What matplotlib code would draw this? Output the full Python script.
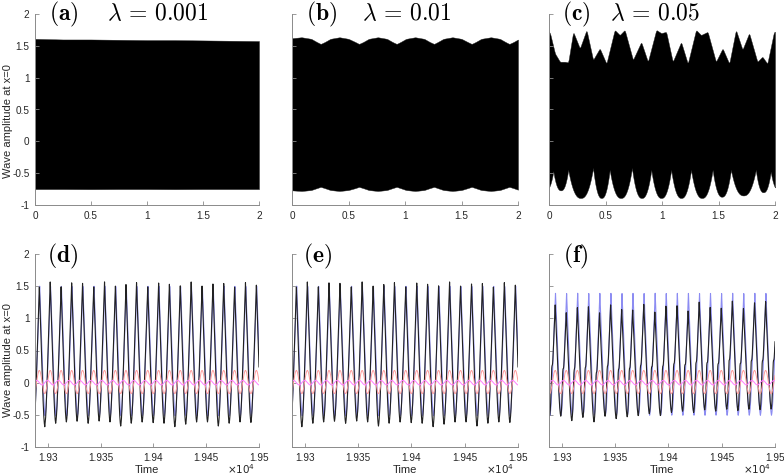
import numpy as np
import matplotlib
matplotlib.use('Agg')
import matplotlib.pyplot as plt

plt.rcParams['font.family'] = ['Liberation Sans', 'DejaVu Sans']
plt.rcParams['mathtext.fontset'] = 'cm'

# ---------------- data ----------------
panel_labels = ['(a)', '(b)', '(c)', '(d)', '(e)', '(f)']
lambda_labels = ['0.001', '0.01', '0.05']

# top row: envelopes of the dense oscillation (time in units of 1e4)
a_x = [0.0, 0.25, 0.5, 0.75, 1.0, 1.25, 1.5, 1.75, 2.0]
a_upper = [1.61, 1.60, 1.60, 1.595, 1.59, 1.59, 1.585, 1.58, 1.575]
a_lower = [-0.75, -0.75, -0.752, -0.75, -0.75, -0.752, -0.75, -0.75, -0.75]

b_x = [0.0, 0.085, 0.17, 0.22, 0.254, 0.29, 0.34, 0.42, 0.50, 0.56, 0.593, 0.63,
       0.68, 0.76, 0.84, 0.89, 0.926, 0.96, 1.01, 1.09, 1.17, 1.22, 1.257, 1.29,
       1.34, 1.42, 1.50, 1.555, 1.590, 1.625, 1.675, 1.76, 1.84, 1.89, 1.923, 1.96, 2.0]
b_upper = [1.62, 1.635, 1.61, 1.56, 1.53, 1.56, 1.61, 1.635, 1.61, 1.56, 1.53, 1.56,
           1.61, 1.635, 1.61, 1.56, 1.53, 1.56, 1.61, 1.635, 1.61, 1.56, 1.53, 1.56,
           1.61, 1.635, 1.61, 1.56, 1.53, 1.56, 1.61, 1.635, 1.61, 1.56, 1.53, 1.56, 1.60]
b_lower = [-0.77, -0.78, -0.765, -0.735, -0.715, -0.735, -0.765, -0.78, -0.765, -0.735, -0.715, -0.735,
           -0.765, -0.78, -0.765, -0.735, -0.715, -0.735, -0.765, -0.78, -0.765, -0.735, -0.715, -0.735,
           -0.765, -0.78, -0.765, -0.735, -0.715, -0.735, -0.765, -0.78, -0.765, -0.735, -0.715, -0.735, -0.76]

c_up_x = [0.0, 0.009, 0.053, 0.097, 0.141, 0.170, 0.214, 0.273, 0.332, 0.390, 0.449, 0.508,
          0.581, 0.626, 0.670, 0.743, 0.816, 0.875, 0.949, 0.993, 1.037, 1.095, 1.169,
          1.228, 1.301, 1.345, 1.404, 1.477, 1.536, 1.595, 1.654, 1.712, 1.771, 1.844,
          1.888, 1.932, 1.991, 2.0]
c_up_y = [1.72, 1.70, 1.38, 1.25, 1.25, 1.24, 1.72, 1.46, 1.75, 1.28, 1.46, 1.22,
          1.75, 1.67, 1.75, 1.28, 1.56, 1.25, 1.75, 1.70, 1.72, 1.25, 1.56,
          1.22, 1.75, 1.67, 1.72, 1.25, 1.46, 1.22, 1.75, 1.44, 1.70, 1.25,
          1.33, 1.22, 1.72, 1.72]
# lower edge of (c): upward cusps (position, height) and the valley depth between them
c_cusp_x = [0.038, 0.170, 0.390, 0.537, 0.734, 0.905, 1.081, 1.257, 1.448, 1.610, 1.830, 1.962]
c_cusp_y = [-0.47, -0.45, -0.42, -0.45, -0.42, -0.45, -0.45, -0.45, -0.45, -0.45, -0.45, -0.48]
c_valley = [-0.76, -0.77, -0.89, -0.89, -0.89, -0.89, -0.89, -0.89, -0.89, -0.87, -0.85, -0.80, -0.76]

# bottom row: spike times, spike heights and trough depths of each cycle
d_spike_t = [19292.1, 19302.4, 19312.7, 19322.7, 19333.0, 19343.6, 19353.8, 19364.1,
             19374.1, 19384.1, 19394.7, 19405.0, 19415.2, 19425.5, 19435.8, 19446.1,
             19456.4, 19466.6, 19476.9, 19487.2, 19497.5]
d_peak = [1.49, 1.57, 1.49, 1.555, 1.545, 1.49, 1.57, 1.505, 1.53, 1.555, 1.49,
          1.555, 1.535, 1.505, 1.57, 1.505, 1.535, 1.545, 1.49, 1.555, 1.52]
d_trough = [-0.72, -0.735, -0.68, -0.66, -0.65, -0.68, -0.645, -0.66, -0.725, -0.68, -0.66,
            -0.67, -0.68, -0.735, -0.695, -0.66, -0.66, -0.725, -0.68, -0.66, -0.67, -0.70]
d_blue_peak = [1.50] * 21
d_blue_trough = [-0.56] * 22

f_spike_t = [19293.8, 19304.2, 19314.6, 19325.0, 19335.4, 19345.8, 19356.2, 19366.5,
             19376.9, 19387.3, 19397.7, 19408.1, 19418.5, 19428.9, 19439.2, 19449.6,
             19460.0, 19470.4, 19480.8, 19491.2]
f_peak = [1.21, 1.09, 1.17, 1.18, 1.09, 1.21, 1.14, 1.13, 1.22, 1.10, 1.19, 1.20,
          1.115, 1.255, 1.17, 1.16, 1.27, 1.155, 1.245, 1.26]
f_trough = [-0.55, -0.56, -0.63, -0.58, -0.65, -0.56, -0.60, -0.57, -0.55, -0.52, -0.55,
            -0.50, -0.48, -0.50, -0.46, -0.48, -0.45, -0.47, -0.45, -0.46, -0.45]
f_shoulder = [0.30] * 21
f_blue_peak = [1.39] * 20
f_blue_trough = [-0.55] * 21

red_mid, red_amp = 0.01, 0.18
mag_mid, mag_amp = 0.0, 0.035

top_xticks = [0, 0.5, 1, 1.5, 2]
top_xticklabels = ['0', '0.5', '1', '1.5', '2']
yticks = [-1, -0.5, 0, 0.5, 1, 1.5, 2]
yticklabels = ['-1', '-0.5', '0', '0.5', '1', '1.5', '2']
bot_xticks = [19300, 19350, 19400, 19450, 19500]
bot_xticklabels = ['1.93', '1.935', '1.94', '1.945', '1.95']
bot_xlim = (19288, 19500)


# ---------------- helpers ----------------
def extend(spk):
    spk = np.asarray(spk, float)
    return np.concatenate([[2 * spk[0] - spk[1]], spk, [2 * spk[-1] - spk[-2]]])


def spike_shape(d, a, s):
    # spike of half base-width a (fraction of period), foot rounded by s
    z = (1 - d / a) / s
    return np.logaddexp(0, z) / np.logaddexp(0, 1 / s)


def pulse_train(t, spk, peaks, troughs, a=0.42, s=0.12, shift=0.0, shoulder=None):
    s_ = extend(spk) + shift
    pk = np.concatenate([[peaks[0]], peaks, [peaks[-1]]])
    y = np.full_like(t, np.nan)
    for i in range(len(s_) - 1):
        m = (t >= s_[i]) & (t <= s_[i + 1])
        u = (t[m] - s_[i]) / (s_[i + 1] - s_[i])
        tr = troughs[i]
        left = tr + (pk[i] - tr) * spike_shape(u, a, s)
        right = tr + (pk[i + 1] - tr) * spike_shape(1 - u, a, s)
        yy = np.where(u < 0.5, left, right)
        if shoulder is not None:
            yy = yy + shoulder[i] * np.exp(-((u - 0.68) / 0.07) ** 2)
        y[m] = yy
    return y


def phase_of(t, spk):
    s = extend(spk)
    return np.interp(t, s, np.arange(len(s)))


def smooth(y, n):
    k = np.ones(n) / n
    yp = np.concatenate([np.full(n, y[0]), y, np.full(n, y[-1])])
    return np.convolve(yp, k, mode='same')[n:-n]


W, H = 784, 476
fig = plt.figure(figsize=(W / 100, H / 100), dpi=100)


def ax_at(l, r, t, b):
    return fig.add_axes([l / W, 1 - b / H, (r - l) / W, (b - t) / H])


AXC = '#8a8a8a'
TXC = '#262626'


def style(ax, show_y):
    for s in ['top', 'right']:
        ax.spines[s].set_visible(False)
    for s in ['left', 'bottom']:
        ax.spines[s].set_color(AXC)
        ax.spines[s].set_linewidth(0.7)
    ax.tick_params(direction='in', length=3, width=0.6, color=AXC,
                   labelsize=7.2, labelcolor=TXC, pad=4)
    ax.set_ylim(-1, 2)
    ax.set_yticks(yticks)
    ax.set_yticklabels(yticklabels if show_y else [])


lefts = [(35, 259), (292, 518), (549, 775)]
lab_x = [(49, 107), (306, 362), (562, 610)]

xx = np.linspace(0, 2, 4000)
cx = np.concatenate([[2 * c_cusp_x[0] - c_cusp_x[1]], c_cusp_x, [2 * c_cusp_x[-1] - c_cusp_x[-2]]])
cy = np.concatenate([[c_cusp_y[0]], c_cusp_y, [c_cusp_y[-1]]])
lo_c = np.full_like(xx, np.nan)
for i in range(len(cx) - 1):
    m = (xx >= cx[i]) & (xx <= cx[i + 1])
    u = (xx[m] - cx[i]) / (cx[i + 1] - cx[i])
    v = c_valley[i]
    left = v + (cy[i] - v) * (1 - np.clip(2 * u, 0, 1)) ** 2.4
    right = v + (cy[i + 1] - v) * np.clip(2 * u - 1, 0, 1) ** 2.4
    lo_c[m] = np.where(u < 0.5, left, right)

env = [
    (np.interp(xx, a_x, a_lower), np.interp(xx, a_x, a_upper)),
    (smooth(np.interp(xx, b_x, b_lower), 25), smooth(np.interp(xx, b_x, b_upper), 25)),
    (lo_c, smooth(np.interp(xx, c_up_x, c_up_y), 25)),
]

for i, (l, r) in enumerate(lefts):
    ax = ax_at(l, r, 14, 205)
    lo, up = env[i]
    ax.fill_between(xx, lo, up, color='black', lw=0.3, edgecolor='#222222')
    ax.set_xlim(0, 2)
    ax.set_xticks(top_xticks)
    ax.set_xticklabels(top_xticklabels)
    style(ax, i == 0)
    fig.text(lab_x[i][0] / W, 1 - 20 / H, r'$\mathbf{' + panel_labels[i] + '}$',
             fontsize=17, va='baseline', ha='left')
    fig.text(lab_x[i][1] / W, 1 - 20 / H, r'$\lambda\,=\,' + lambda_labels[i] + '$',
             fontsize=17, va='baseline', ha='left')

bot_sets = [
    (d_spike_t, d_peak, d_trough, d_blue_peak, d_blue_trough, None),
    (d_spike_t, d_peak, d_trough, d_blue_peak, d_blue_trough, None),
    (f_spike_t, f_peak, f_trough, f_blue_peak, f_blue_trough, f_shoulder),
]
blab_x = [47, 303, 563]
for i, (l, r) in enumerate(lefts):
    ax = ax_at(l, r, 254, 447)
    spk, pk, tr, bpk, btr, sh = bot_sets[i]
    t = np.linspace(bot_xlim[0], bot_xlim[1], 8000)
    ph = phase_of(t, spk)
    yb = pulse_train(t, spk, bpk, btr, shift=0.3)
    yk = pulse_train(t, spk, pk, tr, shoulder=sh)
    yr = red_mid + red_amp * np.cos(2 * np.pi * ph)
    ym = mag_mid + mag_amp * np.cos(2 * np.pi * ph + np.pi / 2)
    ax.plot(t, yb, color='#8c8cf2', lw=0.8)
    ax.plot(t, yk, color='#222222', lw=0.8)
    ax.plot(t, yr, color='#ff9c9c', lw=0.7)
    ax.plot(t, ym, color='#ff7cff', lw=0.7)
    ax.set_xlim(*bot_xlim)
    ax.set_xticks(bot_xticks)
    ax.set_xticklabels(bot_xticklabels)
    style(ax, i == 0)
    fig.text(blab_x[i] / W, 1 - 262 / H, r'$\mathbf{' + panel_labels[3 + i] + '}$',
             fontsize=17, va='baseline', ha='left')
    fig.text(((l + r) / 2) / W, 1 - 473 / H, 'Time', fontsize=8, color=TXC,
             ha='center', va='baseline')
    fig.text((r - 4) / W, 1 - 474 / H, r'$\times10^{4}$', fontsize=7.5, color=TXC,
             ha='right', va='baseline', math_fontfamily='dejavusans')

for yc in [121, 360]:
    fig.text(8 / W, 1 - yc / H, 'Wave amplitude at x=0', rotation=90, fontsize=8,
             color=TXC, ha='center', va='center')

fig.savefig('out.png', dpi=100)
